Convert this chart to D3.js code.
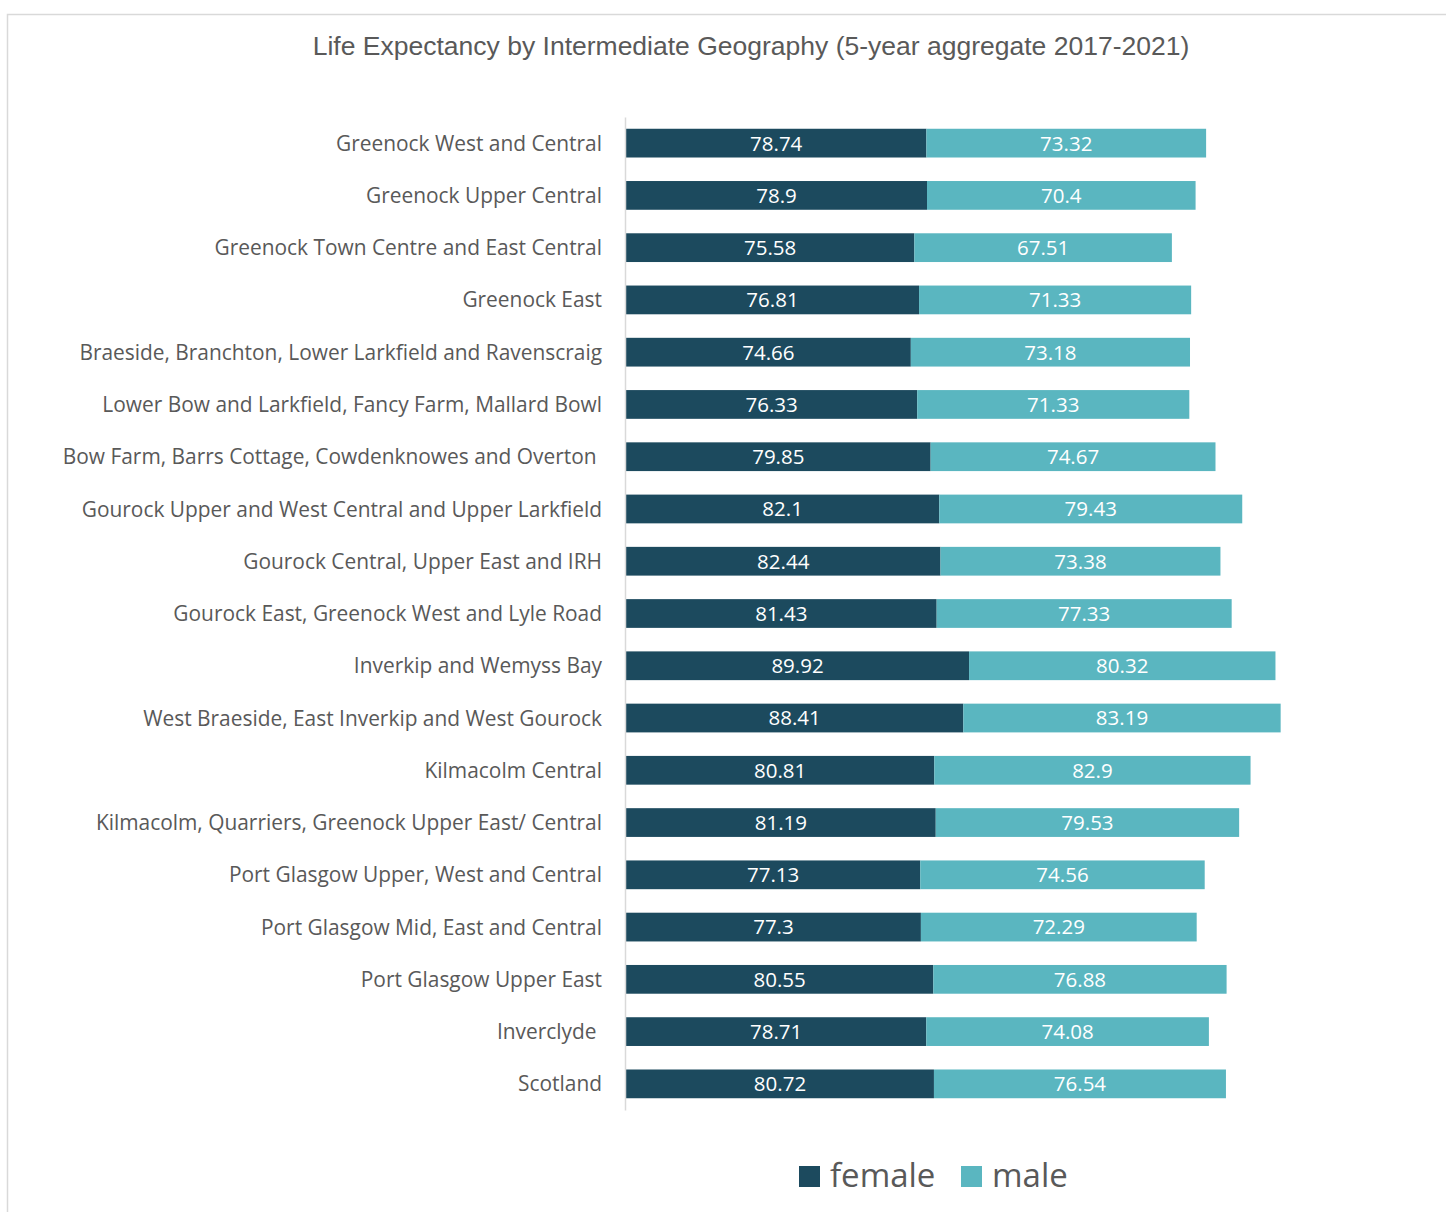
<!DOCTYPE html>
<html>
<head>
<meta charset="utf-8">
<script src="https://cdn.jsdelivr.net/npm/d3@7"></script>
<style>
  body { margin: 0; background: #fff; }
  svg { display: block; }
  .tick text { white-space: pre; }
</style>
</head>
<body>
<div id="chart"></div>
<script>
// life expectancy, 5-year aggregate 2017-2021
const categories = [
  "Greenock West and Central",
  "Greenock Upper Central",
  "Greenock Town Centre and East Central",
  "Greenock East",
  "Braeside, Branchton, Lower Larkfield and Ravenscraig",
  "Lower Bow and Larkfield, Fancy Farm, Mallard Bowl",
  "Bow Farm, Barrs Cottage, Cowdenknowes and Overton ",
  "Gourock Upper and West Central and Upper Larkfield",
  "Gourock Central, Upper East and IRH",
  "Gourock East, Greenock West and Lyle Road",
  "Inverkip and Wemyss Bay",
  "West Braeside, East Inverkip and West Gourock",
  "Kilmacolm Central",
  "Kilmacolm, Quarriers, Greenock Upper East/ Central",
  "Port Glasgow Upper, West and Central",
  "Port Glasgow Mid, East and Central",
  "Port Glasgow Upper East",
  "Inverclyde ",
  "Scotland"
];
const female = [78.74, 78.9, 75.58, 76.81, 74.66, 76.33, 79.85, 82.1, 82.44, 81.43,
  89.92, 88.41, 80.81, 81.19, 77.13, 77.3, 80.55, 78.71, 80.72];
const male = [73.32, 70.4, 67.51, 71.33, 73.18, 71.33, 74.67, 79.43, 73.38, 77.33,
  80.32, 83.19, 82.9, 79.53, 74.56, 72.29, 76.88, 74.08, 76.54];
const seriesNames = ["female", "male"];
const colors = ["#1c4a5e", "#5ab6c0"];

const W = 1446, H = 1212;
const svg = d3.select("#chart").append("svg")
    .attr("width", W)
    .attr("height", H);

// chart frame (only top and left edges visible in the crop)
svg.append("path")
    .attr("d", `M7.5,${H} V14.5 H${W}`)
    .attr("fill", "none")
    .attr("stroke", "#d9d9d9")
    .attr("stroke-width", 1.5);

svg.append("text")
    .attr("x", 751)
    .attr("y", 55)
    .attr("text-anchor", "middle")
    .attr("font-family", "'Liberation Sans', Arial, sans-serif")
    .attr("font-size", 26.5)
    .attr("fill", "#595959")
    .text("Life Expectancy by Intermediate Geography (5-year aggregate 2017-2021)");

const rows = categories.map((c, i) => ({ name: c, female: female[i], male: male[i] }));

const y = d3.scaleBand()
    .domain(categories)
    .range([117, 1110])
    .paddingInner(0.45)
    .paddingOuter(0.225);

const x = d3.scaleLinear()
    .domain([0, 180])
    .range([626, 626 + 180 * 3.815]);

const stacked = d3.stack().keys(seriesNames)(rows);

const layers = svg.append("g").selectAll("g")
    .data(stacked)
    .join("g")
    .attr("fill", (d, i) => colors[i]);

layers.selectAll("rect")
    .data(d => d)
    .join("rect")
    .attr("x", d => x(d[0]))
    .attr("y", d => y(d.data.name))
    .attr("width", d => x(d[1]) - x(d[0]))
    .attr("height", y.bandwidth());

layers.selectAll("text")
    .data(d => d.map(p => ({ p, key: d.key })))
    .join("text")
    .attr("x", d => (x(d.p[0]) + x(d.p[1])) / 2)
    .attr("y", d => y(d.p.data.name) + y.bandwidth() / 2)
    .attr("dy", "0.36em")
    .attr("text-anchor", "middle")
    .attr("font-family", "'Open Sans', 'Noto Sans', sans-serif")
    .attr("font-size", 20.5)
    .attr("fill", "#ffffff")
    .text(d => String(d.p.data[d.key]));

const axis = svg.append("g")
    .attr("transform", "translate(625,0)")
    .call(d3.axisLeft(y).tickSize(0).tickPadding(23));

axis.select(".domain")
    .attr("stroke", "#d9d9d9")
    .attr("stroke-width", 1.5);

axis.selectAll(".tick text")
    .attr("font-family", "'Open Sans', 'Noto Sans', sans-serif")
    .attr("font-size", 20.9)
    .attr("fill", "#595959")
    .attr("dy", "0.36em");

// legend
const legend = svg.append("g")
    .attr("transform", "translate(799,1166)");
const legendX = [0, 162];
seriesNames.forEach((s, i) => {
  legend.append("rect")
      .attr("x", legendX[i])
      .attr("y", 0)
      .attr("width", 21)
      .attr("height", 21)
      .attr("fill", colors[i]);
  legend.append("text")
      .attr("x", legendX[i] + 31)
      .attr("y", 21)
      .attr("font-family", "'Open Sans', 'Noto Sans', sans-serif")
      .attr("font-size", 33)
      .attr("fill", "#595959")
      .text(s);
});
</script>
</body>
</html>
